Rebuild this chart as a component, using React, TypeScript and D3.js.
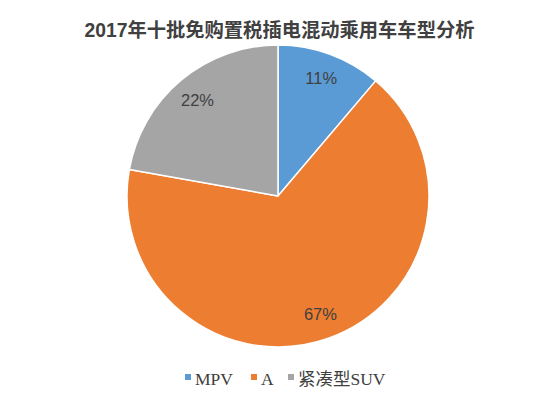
import React from "react";
import * as d3 from "d3";

const title = "2017年十批免购置税插电混动乘用车车型分析";
const categories = ["MPV", "A", "紧凑型SUV"];
const values = [11.2, 66.6, 22.2];
const colors = ["#5B9BD5", "#ED7D31", "#A5A5A5"];

const W = 559;
const H = 395;
const cx = 278;
const cy = 196;
const R = 151;
const legendX = [185, 251, 288];

export default function App() {
  const total = d3.sum(values);
  const pie = d3.pie<number>().sort(null).value((d) => d);
  const arcs = pie(values);
  const arc = d3.arc<d3.PieArcDatum<number>>().innerRadius(0).outerRadius(R);
  const labelArc = d3
    .arc<d3.PieArcDatum<number>>()
    .innerRadius(R * 0.83)
    .outerRadius(R * 0.83);
  const fmt = (v: number) => `${Math.round((v / total) * 100)}%`;

  return (
    <svg
      width={W}
      height={H}
      style={{ position: "absolute", left: 0, top: 0, background: "#fff" }}
    >
      <text
        x={W / 2}
        y={37}
        textAnchor="middle"
        fontFamily="'Liberation Sans', 'Noto Sans CJK SC', sans-serif"
        fontWeight="bold"
        fontSize={19.3}
        fill="#404040"
      >
        {title}
      </text>
      <g transform={`translate(${cx},${cy})`}>
        {arcs.map((a, i) => (
          <path
            key={i}
            d={arc(a) || ""}
            fill={colors[i]}
            stroke="#fff"
            strokeWidth={1.5}
            strokeLinejoin="round"
          />
        ))}
        {arcs.map((a, i) => {
          const [x, y] = labelArc.centroid(a);
          return (
            <text
              key={i}
              x={x}
              y={y}
              dy="0.35em"
              textAnchor="middle"
              fontFamily="'Liberation Sans', sans-serif"
              fontSize={16.5}
              fill="#404040"
            >
              {fmt(values[i])}
            </text>
          );
        })}
      </g>
      <g>
        {categories.map((c, i) => (
          <g key={c} transform={`translate(${legendX[i]},378)`}>
            <rect x={0} y={-4} width={6} height={6} fill={colors[i]} />
            <text
              x={10}
              y={7}
              fontFamily="'Liberation Serif', 'Noto Sans CJK SC', serif"
              fontSize={17.5}
              fill="#404040"
            >
              {c}
            </text>
          </g>
        ))}
      </g>
    </svg>
  );
}
